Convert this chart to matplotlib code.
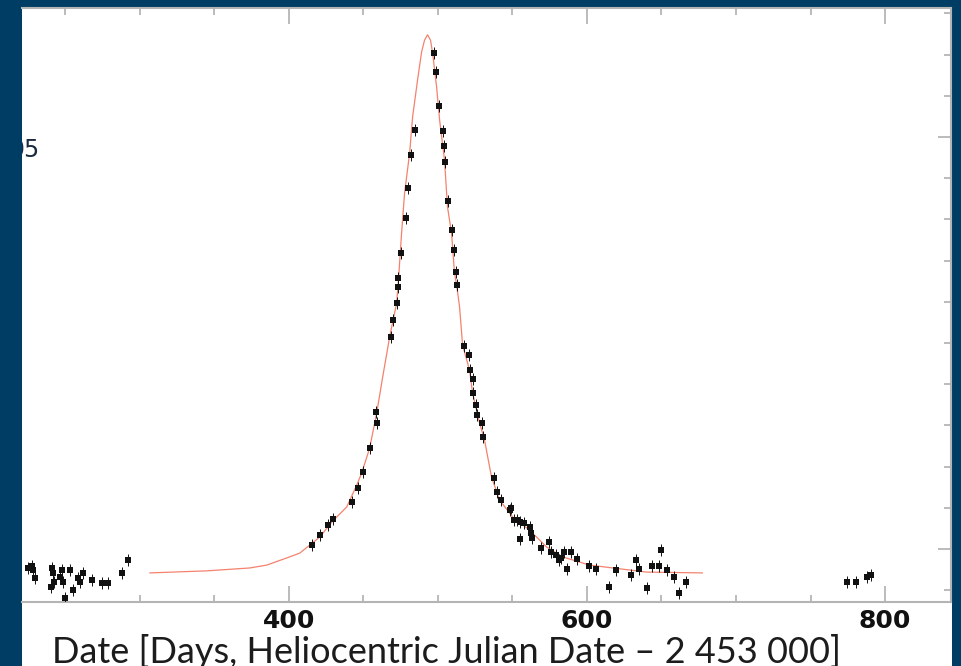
import matplotlib.pyplot as plt
from matplotlib.patches import Rectangle
from matplotlib.ticker import MultipleLocator, FixedLocator

# photometry: days (HJD - 2453000) and relative flux (arbitrary units)
days = [225.1, 228.5, 229.8, 227.8, 241.2, 241.9, 242.5, 240.5, 246.6, 248.6,
        247.9, 253.3, 255.3, 250.0, 258.6, 262.0, 260.0, 268.0, 274.7, 278.7,
        288.1, 292.1,
        415.4, 420.8, 426.1, 429.5, 442.2, 446.2, 449.6, 454.3, 459.0, 458.5,
        468.3, 469.7, 472.4, 473.0, 473.0, 475.0, 478.4, 479.7, 481.7, 484.4,
        497.2, 498.5, 500.5, 503.2, 503.9, 504.5, 506.5, 509.2, 510.6, 511.9,
        512.6, 517.3, 520.6, 521.9, 523.3, 523.3, 525.3, 526.6, 529.3, 530.0,
        538.0, 540.0, 542.7, 549.4, 553.4, 561.5,
        548.1, 551.4, 554.8, 558.1, 562.8, 554.8, 563.5, 569.5, 574.9, 576.2,
        579.6, 581.6, 584.9, 589.6, 586.9, 593.6, 582.9, 601.7, 606.4, 615.1,
        619.8, 629.8, 633.2, 635.2, 640.5, 643.9, 649.9, 648.6, 653.9, 658.6,
        666.7, 662.0,
        774.5, 780.6, 787.9, 790.6]
flux = [-0.46, -0.51, -0.70, -0.41, -0.46, -0.58, -0.80, -0.92, -0.68, -0.80,
        -0.51, -0.51, -1.00, -1.19, -0.70, -0.58, -0.80, -0.75, -0.83, -0.83,
        -0.58, -0.27,
        0.10, 0.34, 0.58, 0.73, 1.14, 1.48, 1.87, 2.45, 3.06, 3.33,
        5.15, 5.56, 5.97, 6.58, 6.36, 7.18, 8.03, 8.76, 9.56, 10.17,
        12.04, 11.58, 10.75, 10.15, 9.78, 9.39, 8.45, 7.74, 7.26, 6.72,
        6.41, 4.93, 4.71, 4.34, 4.13, 3.79, 3.50, 3.25, 3.06, 2.72,
        1.72, 1.38, 1.19, 1.00, 0.70, 0.53,
        0.95, 0.70, 0.66, 0.63, 0.39, 0.24, 0.27, 0.02, 0.17, -0.07,
        -0.15, -0.27, -0.07, -0.07, -0.49, -0.24, -0.22, -0.41, -0.49, -0.92,
        -0.51, -0.63, -0.27, -0.49, -0.95, -0.41, -0.02, -0.41, -0.51, -0.68,
        -0.80, -1.07,
        -0.80, -0.80, -0.68, -0.63]
flux_err = 0.14

# model light curve
fit_days = [306.9, 345.1, 373.9, 385.3, 400.7, 407.4, 420.8, 429.5, 438.9, 445.6,
            448.9, 454.3, 459.0, 463.0, 467.7, 472.4, 473.7, 475.7, 477.7, 481.1,
            483.1, 486.4, 489.1, 491.1, 493.1, 495.1, 496.5, 499.2, 501.2, 504.5,
            506.5, 509.2, 511.2, 512.6, 514.6, 516.6, 521.3, 523.3, 528.0, 531.3,
            536.0, 541.4, 550.1, 561.5, 572.9, 583.6, 601.7, 639.9, 677.4]
fit_flux = [-0.58, -0.53, -0.46, -0.39, -0.19, -0.10, 0.29, 0.68, 1.02, 1.55,
            1.84, 2.45, 3.30, 4.17, 5.15, 5.97, 6.58, 7.67, 8.64, 9.61,
            10.49, 11.38, 12.06, 12.35, 12.48, 12.35, 12.04, 11.21, 10.41, 9.44,
            8.30, 7.67, 6.70, 6.41, 5.87, 4.95, 4.34, 3.79, 3.06, 2.65,
            1.75, 1.19, 0.78, 0.46, 0.05, -0.19, -0.39, -0.56, -0.58]

x_ticks = [400, 600, 800]

bg = '#003d64'
fig = plt.figure(figsize=(9.62, 6.66), dpi=100, facecolor=bg)
fig.patches.append(Rectangle((22/962, 0), 930/962, 658/666, transform=fig.transFigure,
                             facecolor='white', edgecolor='none', zorder=-5))

ax = fig.add_axes([22/962, 64/666, 929/962, 594/666])
ax.set_facecolor('white')

ax.plot(fit_days, fit_flux, color='#f4826e', lw=0.9, zorder=2)
ax.errorbar(days, flux, yerr=flux_err, fmt='s', color='#111111', ms=4.5, mew=0,
            elinewidth=0.7, capsize=1.8, capthick=0.7, zorder=3)

ax.set_xlim(221.1, 844.2)
ax.set_ylim(-1.286, 13.13)

ax.xaxis.set_major_locator(FixedLocator(x_ticks))
ax.xaxis.set_minor_locator(MultipleLocator(50))
ax.yaxis.set_major_locator(MultipleLocator(10))
ax.yaxis.set_minor_locator(MultipleLocator(1))

ax.tick_params(axis='x', which='major', direction='in', length=11.5, width=1.1,
               color='#a8a8a8', top=True, bottom=True, pad=5,
               labelsize=18, labelcolor='#111111')
ax.tick_params(axis='x', which='minor', direction='in', length=5, width=1.1,
               color='#a8a8a8', top=True, bottom=True)
ax.tick_params(axis='y', which='major', direction='in', length=9.5, width=1.1,
               color='#a8a8a8', left=False, right=True, labelleft=False)
ax.tick_params(axis='y', which='minor', direction='in', length=5, width=1.1,
               color='#a8a8a8', left=False, right=True)
for lab in ax.get_xticklabels():
    lab.set_fontweight('bold')

for side in ['top', 'bottom', 'right']:
    ax.spines[side].set_color('#b4b4b4')
    ax.spines[side].set_linewidth(1.5)
ax.spines['left'].set_visible(False)

# cut-off y tick label on the left edge
ax.text(0.0194, 0.761, '05', transform=ax.transAxes, ha='right', va='center',
        fontsize=17, color='#1a2a40', clip_on=True)

fig.text(446/962, 3/666, 'Date [Days, Heliocentric Julian Date \u2013 2 453 000]',
         ha='center', va='baseline', fontsize=26, family='Lato', color='#1c1c1c')

fig.savefig('out.png', dpi=100, facecolor=bg)
